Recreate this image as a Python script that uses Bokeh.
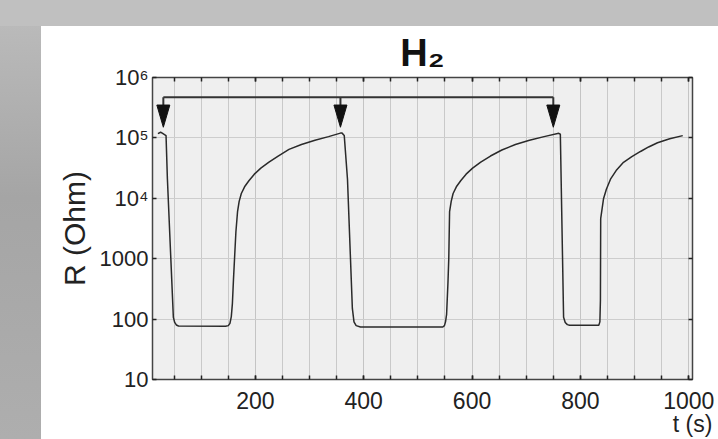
from bokeh.plotting import figure
from bokeh.models import Range1d, FixedTicker, LinearAxis, LogAxis
from bokeh.embed import file_html
from bokeh.resources import INLINE

# ---- data ----
t_s = [20, 25, 28, 35, 37.5, 48.5, 51, 54, 58, 145, 150, 153, 155.5, 157.5, 159.5, 161.5, 164,
       167, 170, 174, 180, 188, 198, 210, 225, 242, 262, 285, 310, 335, 357, 360, 364,
       370, 379, 382, 386, 394, 546, 549, 551, 553, 555.5, 557, 558.5, 561.5, 565, 571, 579,
       589, 601, 616, 634, 655, 680, 706, 733, 760, 763,
       769, 772, 776, 780, 834, 836, 837, 837.5, 842.7, 848, 855.6, 866, 879.6, 895, 911, 926,
       942.4, 965, 989]
r_ohm = [1.18e5, 1.24e5, 1.2e5, 1.09e5, 2.1e4, 107, 88, 80, 77, 76, 78, 85, 110, 180, 450, 1020, 2800,
         6000, 8900, 1.2e4, 1.55e4, 1.95e4, 2.51e4, 3.16e4, 3.98e4, 5.01e4, 6.46e4, 7.76e4, 9.12e4,
         1.05e5, 1.2e5, 1.2e5, 1.1e5,
         2.07e4, 150, 90, 78, 74, 74, 78, 90, 120, 400, 1000, 6000, 8900, 1.2e4, 1.55e4, 1.95e4,
         2.51e4, 3.16e4, 3.98e4, 5.01e4, 6.31e4, 7.76e4, 9.12e4, 1.05e5, 1.19e5, 1.15e5,
         107, 88, 81, 79, 79, 90, 203, 4600, 9800, 1.41e4, 2.07e4, 2.88e4, 3.94e4, 4.9e4, 5.96e4,
         7.08e4, 8.32e4, 9.66e4, 1.09e5]

x_major = [200, 400, 600, 800, 1000]
x_minor = [50, 100, 150, 200, 250, 300, 350, 400, 450, 500, 550, 600, 650, 700, 750, 800, 850,
           900, 950, 1000]
y_ticks = [10, 100, 1000, 10000, 100000, 1000000]
y_tick_labels = ["10", "100", "1000", "10⁴", "10⁵", "10⁶"]

arrow_t = [30, 357, 750]
arrow_bar = 4.7e5
arrow_head_top = 3.5e5
arrow_tip = 1.5e5
head_half = 12

title_text = "H₂"
x_title = "t (s)"
y_title = "R (Ohm)"

FONT = "Liberation Sans"
TXT = "#222222"

p = figure(width=718, height=439, y_axis_type="log",
           x_range=Range1d(10, 1007), y_range=Range1d(10, 1e6),
           output_backend="svg", toolbar_location=None,
           min_border_left=152, min_border_right=26, min_border_top=77, min_border_bottom=56)

p.border_fill_color = None
p.styles = {
    "background": "linear-gradient(#c0c0c0, #c0c0c0) left top / 100% 26px no-repeat, "
                  "linear-gradient(to bottom, #bdbdbd, #a5a5a5 45%, #aeaeae) left top / 41px 100% no-repeat, "
                  "#ffffff"
}
p.background_fill_color = "#efefef"
p.outline_line_color = "#444444"
p.outline_line_width = 1.5

# grids
p.xgrid.ticker = FixedTicker(ticks=x_major, minor_ticks=x_minor)
p.xgrid.grid_line_color = "#c4c4c4"
p.xgrid.minor_grid_line_color = "#c9c9c9"
p.ygrid.ticker = FixedTicker(ticks=y_ticks)
p.ygrid.grid_line_color = "#cdcdcd"


def tick_style(ax, minor=True):
    ax.major_tick_in = 4
    ax.major_tick_out = 0
    ax.major_tick_line_color = "#222222"
    ax.major_tick_line_width = 1.5
    if minor:
        ax.minor_tick_in = 4
        ax.minor_tick_out = 0
        ax.minor_tick_line_color = "#222222"
        ax.minor_tick_line_width = 1.5
    else:
        ax.minor_tick_line_color = None
    ax.axis_line_color = "#444444"


# bottom axis
xa = p.below[0]
xa.ticker = FixedTicker(ticks=x_major, minor_ticks=x_minor)
xa.major_label_text_font = FONT
xa.major_label_text_font_size = "23px"
xa.major_label_text_color = TXT
xa.major_label_standoff = 12
tick_style(xa)
xa.axis_label = x_title
xa.axis_label_text_font = FONT
xa.axis_label_text_font_size = "23px"
xa.axis_label_text_font_style = "normal"
xa.axis_label_text_color = TXT
xa.axis_label_standoff = -1
try:
    xa.axis_label_align = "end"
except Exception:
    pass

# left axis
ya = p.left[0]
ya.ticker = FixedTicker(ticks=y_ticks)
ya.major_label_overrides = {int(v): s for v, s in zip(y_ticks, y_tick_labels)}
ya.major_label_text_font = FONT
ya.major_label_text_font_size = "22px"
ya.major_label_text_color = TXT
ya.major_label_standoff = 4
tick_style(ya, minor=False)
ya.axis_label = y_title
ya.axis_label_text_font = FONT
ya.axis_label_text_font_size = "30px"
ya.axis_label_text_font_style = "normal"
ya.axis_label_text_color = TXT
ya.axis_label_standoff = 6

# right and top axes (ticks only; the top one carries the title)
ra = LogAxis(ticker=FixedTicker(ticks=y_ticks))
tick_style(ra, minor=False)
ra.major_label_text_color = None
ra.major_label_text_alpha = 0
ra.major_label_standoff = 0
p.add_layout(ra, "right")

ta = LinearAxis(ticker=FixedTicker(ticks=x_major, minor_ticks=x_minor))
tick_style(ta)
ta.major_label_text_color = None
ta.major_label_text_alpha = 0
ta.major_label_standoff = 0
ta.axis_label = title_text
ta.axis_label_text_font = FONT
ta.axis_label_text_font_size = "38px"
ta.axis_label_text_font_style = "bold"
ta.axis_label_text_color = "#111111"
ta.axis_label_standoff = 4
p.add_layout(ta, "above")

# curve
p.line(t_s, r_ohm, line_color="#2a2a2a", line_width=1.5)

# arrows
p.line([arrow_t[0], arrow_t[-1]], [arrow_bar, arrow_bar], line_color="#333333", line_width=2)
p.segment(x0=arrow_t, y0=[arrow_bar] * len(arrow_t), x1=arrow_t, y1=[arrow_head_top] * len(arrow_t),
          line_color="#333333", line_width=2)
p.patches(xs=[[t - head_half, t + head_half, t] for t in arrow_t],
          ys=[[arrow_head_top, arrow_head_top, arrow_tip] for _ in arrow_t],
          fill_color="#111111", line_color="#111111")

open("out.html", "w").write(file_html(p, INLINE))
